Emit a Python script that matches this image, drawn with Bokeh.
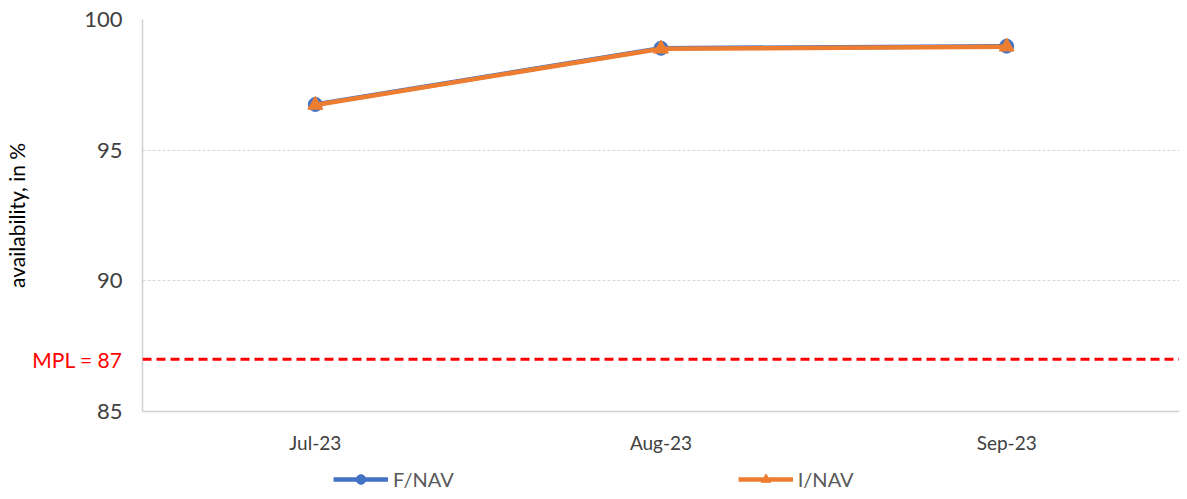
from bokeh.plotting import figure
from bokeh.layouts import column
from bokeh.models import (FactorRange, Range1d, FixedTicker, Span, Legend, LegendItem,
                          LinearAxis)
from bokeh.embed import file_html
from bokeh.resources import INLINE

months = ["Jul-23", "Aug-23", "Sep-23"]
fnav = [96.75, 98.90, 98.98]
inav = [96.73, 98.88, 98.96]
y_ticks = [85, 90, 95, 100]
mpl = 87
mpl_label = "MPL = 87"
y_title = "availability, in %"
series_names = ["F/NAV", "I/NAV"]

FONT = "Lato"
BLUE = "#4472C4"
ORANGE = "#ED7D31"

p = figure(width=1179, height=460, x_range=FactorRange(*months), y_range=Range1d(85, 100),
           output_backend="svg", toolbar_location=None)
p.min_border_left = 142
p.min_border_right = 0
p.min_border_top = 19
p.min_border_bottom = 49
p.outline_line_color = None
p.background_fill_color = "white"

# second left axis carrying only the MPL tick (red), pulled back next to the numbers
red_axis = LinearAxis(ticker=FixedTicker(ticks=[mpl]), major_label_overrides={mpl: mpl_label})
p.add_layout(red_axis, "left")

for ax in (p.xaxis[0], p.yaxis[0], red_axis):
    ax.major_tick_line_color = None
    ax.minor_tick_line_color = None
    ax.major_tick_out = 0
    ax.major_tick_in = 0
    ax.axis_line_color = "#d0d0d0"
    ax.axis_line_width = 1.5
    ax.major_label_text_font = FONT
    ax.major_label_text_color = "#404040"
p.yaxis[0].ticker = FixedTicker(ticks=y_ticks)
p.yaxis[0].major_label_text_font_size = "22px"
p.yaxis[0].major_label_standoff = 20
red_axis.axis_line_color = None
red_axis.major_label_text_color = "#FF0000"
red_axis.major_label_text_font_size = "21px"
red_axis.major_label_standoff = -41
red_axis.axis_label = y_title
red_axis.axis_label_text_font = FONT
red_axis.axis_label_text_font_style = "normal"
red_axis.axis_label_text_font_size = "21px"
red_axis.axis_label_text_color = "#000000"
red_axis.axis_label_standoff = 0

p.xaxis[0].major_label_text_font_size = "19px"
p.xaxis[0].major_label_standoff = 19

p.xgrid.grid_line_color = None
p.ygrid.grid_line_color = "#d6d6d6"
p.ygrid.grid_line_dash = "3 2"
p.ygrid.grid_line_width = 1

# MPL line
p.add_layout(Span(location=mpl, dimension="width", line_color="#FF0000", line_width=3, line_dash="9 5"))

# series
p.line(months, fnav, line_color=BLUE, line_width=4.5)
p.scatter(months, fnav, marker="circle", size=14, fill_color=BLUE, line_color=BLUE)
p.line(months, inav, line_color=ORANGE, line_width=4.5)
p.scatter(months, inav, marker="triangle", size=15, fill_color=ORANGE, line_color=ORANGE)

# legend strip below the chart (series drawn out of view, only their legend glyphs show)
pl = figure(width=1179, height=31, x_range=FactorRange(*months), y_range=Range1d(0, 1),
            output_backend="svg", toolbar_location=None, min_border=0,
            x_axis_location=None, y_axis_location=None)
pl.grid.grid_line_color = None
pl.outline_line_color = None
gl1 = pl.line(months, fnav, line_color=BLUE, line_width=4.5)
gs1 = pl.scatter(months, fnav, marker="circle", size=14, fill_color=BLUE, line_color=BLUE)
gl2 = pl.line(months, inav, line_color=ORANGE, line_width=4.5)
gs2 = pl.scatter(months, inav, marker="triangle", size=15, fill_color=ORANGE, line_color=ORANGE)
legend = Legend(items=[LegendItem(label=series_names[0], renderers=[gl1, gs1]),
                       LegendItem(label=series_names[1], renderers=[gl2, gs2])],
                orientation="horizontal", spacing=284, glyph_width=55, glyph_height=24,
                label_text_font=FONT, label_text_font_size="20px", label_text_color="#595959",
                border_line_color=None, background_fill_alpha=0, location=(191, 0), padding=2, margin=0)
pl.add_layout(legend)

layout = column(p, pl, spacing=0)
open("out.html", "w").write(file_html(layout, INLINE))
